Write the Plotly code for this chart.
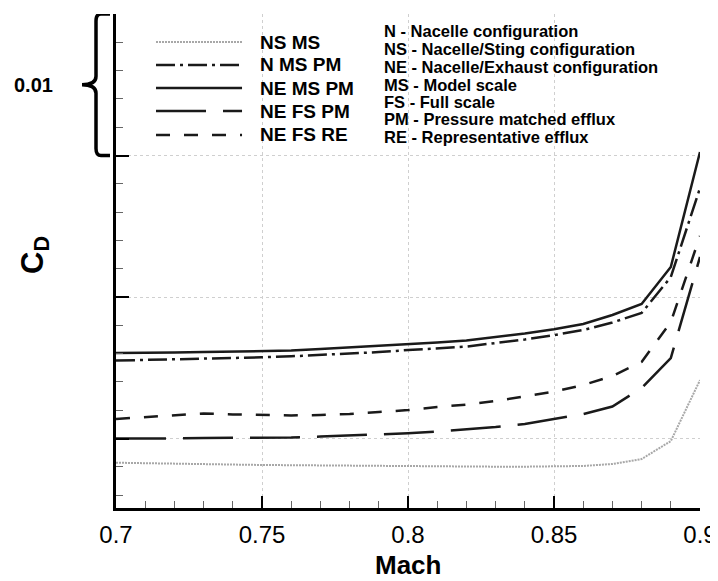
import plotly.graph_objects as go

mach = [0.70, 0.71, 0.72, 0.73, 0.74, 0.75, 0.76, 0.77, 0.78, 0.79, 0.80,
        0.81, 0.82, 0.83, 0.84, 0.85, 0.86, 0.87, 0.88, 0.89, 0.90]

cd_ns_ms = [0.00829, 0.00827, 0.00823, 0.00820, 0.00816, 0.00813, 0.00811, 0.00808, 0.00806, 0.00804, 0.00802,
            0.00801, 0.00801, 0.00801, 0.00801, 0.00801, 0.00806, 0.00820, 0.00855, 0.00982, 0.01413]
cd_n_ms_pm = [0.01551, 0.01555, 0.01562, 0.01565, 0.01569, 0.01574, 0.01581, 0.01590, 0.01601, 0.01611, 0.01625,
              0.01636, 0.01650, 0.01675, 0.01700, 0.01731, 0.01767, 0.01820, 0.01887, 0.02141, 0.02770]
cd_ne_ms_pm = [0.01604, 0.01604, 0.01608, 0.01611, 0.01615, 0.01618, 0.01622, 0.01633, 0.01643, 0.01654, 0.01666,
               0.01678, 0.01693, 0.01717, 0.01742, 0.01772, 0.01809, 0.01873, 0.01951, 0.02212, 0.03025]
cd_ne_fs_pm = [0.01001, 0.01000, 0.01000, 0.01004, 0.01004, 0.01006, 0.01007, 0.01014, 0.01021, 0.01028, 0.01037,
               0.01049, 0.01064, 0.01081, 0.01102, 0.01138, 0.01173, 0.01226, 0.01357, 0.01569, 0.02283]
cd_ne_fs_re = [0.01138, 0.01152, 0.01166, 0.01177, 0.01170, 0.01166, 0.01163, 0.01166, 0.01173, 0.01187, 0.01201,
               0.01223, 0.01240, 0.01265, 0.01297, 0.01331, 0.01378, 0.01442, 0.01541, 0.01823, 0.02431]

series_names = ["NS MS", "N MS PM", "NE MS PM", "NE FS PM", "NE FS RE"]
series_values = [cd_ns_ms, cd_n_ms_pm, cd_ne_ms_pm, cd_ne_fs_pm, cd_ne_fs_re]

x_tick_vals = [0.7, 0.75, 0.8, 0.85, 0.9]
x_tick_text = ["0.7", "0.75", "0.8", "0.85", "0.9"]
y_tick_vals = [0.01, 0.02, 0.03, 0.04]

definitions = ["N - Nacelle configuration",
               "NS - Nacelle/Sting configuration",
               "NE - Nacelle/Exhaust configuration",
               "MS - Model scale",
               "FS - Full scale",
               "PM - Pressure matched efflux",
               "RE - Representative efflux"]

bracket_label = "0.01"

styles = [
    dict(color="#a8a8a8", width=2, dash="2px,1px"),
    dict(color="#1a1a1a", width=2.5, dash="19px,5px,3px,5px"),
    dict(color="#1a1a1a", width=2.5, dash="solid"),
    dict(color="#1a1a1a", width=2.5, dash="50px,17px"),
    dict(color="#1a1a1a", width=2.5, dash="14px,14px"),
]

FONT = "Liberation Sans, Arial, sans-serif"

fig = go.Figure()
for name, vals, st in zip(series_names, series_values, styles):
    fig.add_trace(go.Scatter(x=mach, y=vals, mode="lines", name=name,
                             line=st, showlegend=False))

# manual legend
leg_y = [0.9433, 0.8968, 0.8502, 0.8036, 0.7551]
shapes = []
annotations = []
for name, st, yy in zip(series_names, styles, leg_y):
    shapes.append(dict(type="line", xref="paper", yref="paper",
                       x0=0.0685, x1=0.2158, y0=yy, y1=yy, line=st))
    annotations.append(dict(xref="paper", yref="paper", x=0.2432, y=yy,
                            xanchor="left", yanchor="middle", showarrow=False,
                            text="<b>%s</b>" % name,
                            font=dict(family=FONT, size=19, color="black")))

def_y = [0.9656, 0.9291, 0.8927, 0.8563, 0.8219, 0.7874, 0.7510]
for txt, yy in zip(definitions, def_y):
    annotations.append(dict(xref="paper", yref="paper", x=0.4555, y=yy,
                            xanchor="left", yanchor="middle", showarrow=False,
                            text="<b>%s</b>" % txt,
                            font=dict(family=FONT, size=16.5, color="black")))

# bracket showing 0.01 span
shapes.append(dict(type="path", xref="paper", xsizemode="pixel", xanchor=0,
                   yref="y",
                   path=("M -6,0.04 L -15,0.04 Q -20,0.04 -20,0.0395 L -20,0.0356 "
                         "Q -20,0.035 -34,0.035 Q -20,0.035 -20,0.0344 L -20,0.0305 "
                         "Q -20,0.03 -15,0.03 L -6,0.03"),
                   line=dict(color="black", width=3.5)))
annotations.append(dict(xref="paper", yref="y", x=-0.142, y=0.035,
                        xanchor="center", yanchor="middle", showarrow=False,
                        text="<b>%s</b>" % bracket_label,
                        font=dict(family=FONT, size=20, color="black")))
annotations.append(dict(xref="paper", yref="paper", x=-0.139, y=0.512,
                        xanchor="center", yanchor="middle", showarrow=False,
                        textangle=-90,
                        text="<b>C<sub>D</sub></b>",
                        font=dict(family=FONT, size=31, color="black")))
annotations.append(dict(xref="paper", yref="paper", x=0.5, y=0, yshift=-57,
                        xanchor="center", yanchor="middle", showarrow=False,
                        text="<b>Mach</b>",
                        font=dict(family=FONT, size=26, color="black")))

# page body has an 8px margin: the figure is sized/offset so the plot area
# sits at the same window pixels as the reference.
fig.update_layout(
    width=710, height=573,
    margin=dict(l=108, r=18, t=6, b=73),
    paper_bgcolor="white", plot_bgcolor="white",
    font=dict(family=FONT, color="black"),
    shapes=shapes, annotations=annotations,
    showlegend=False,
)
fig.update_xaxes(
    range=[0.7, 0.9], tickvals=x_tick_vals, ticktext=x_tick_text,
    ticks="inside", ticklen=12, tickwidth=2, tickcolor="black",
    minor=dict(dtick=0.01, tick0=0.7, ticks="inside", ticklen=7, tickwidth=1,
               tickcolor="#666", showgrid=False),
    showline=True, linewidth=2.5, linecolor="black",
    showgrid=True, gridcolor="#cfcfcf", griddash="dot", gridwidth=1,
    zeroline=False, automargin=False, ticklabelstandoff=3,
    tickfont=dict(family=FONT, size=24, color="black"),
)
fig.update_yaxes(
    range=[0.00509, 0.04], tickvals=y_tick_vals, showticklabels=False,
    ticks="inside", ticklen=13, tickwidth=2, tickcolor="black",
    minor=dict(dtick=0.002, tick0=0, ticks="inside", ticklen=7, tickwidth=1,
               tickcolor="#666", showgrid=False),
    showline=True, linewidth=2.5, linecolor="black",
    showgrid=True, gridcolor="#cfcfcf", griddash="dot", gridwidth=1,
    zeroline=False, automargin=False,
)

fig.write_html("out.html")
